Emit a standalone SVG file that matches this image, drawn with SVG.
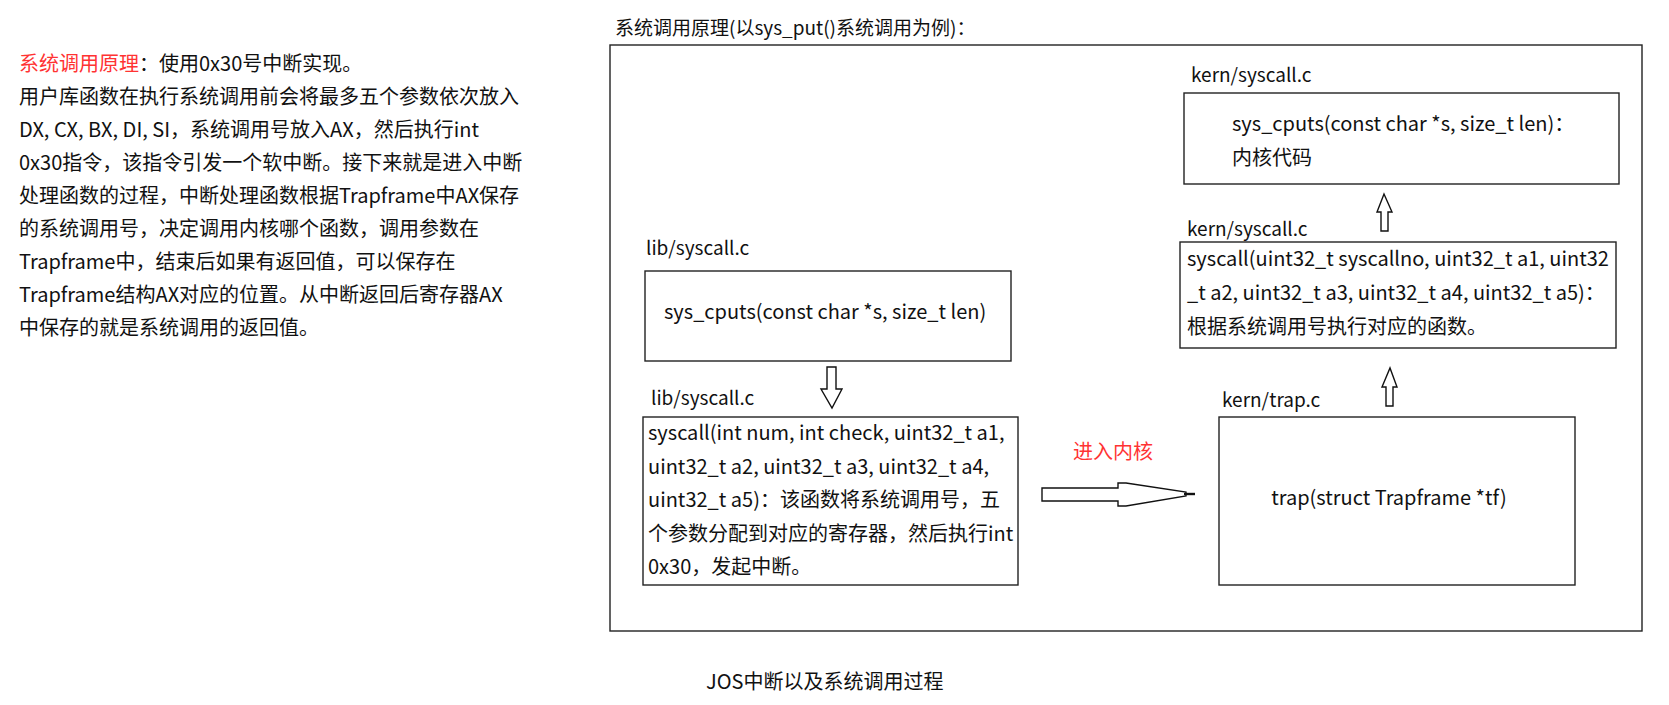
<svg xmlns="http://www.w3.org/2000/svg" width="1669" height="705" viewBox="0 0 1669 705">
<style>
text{font-family:"Noto Sans CJK SC","Liberation Sans",sans-serif;font-size:20px;fill:#111}
.red{fill:#ff3333}
.box{fill:#fff;stroke:#222;stroke-width:1.4}
.arr{fill:#fff;stroke:#111;stroke-width:1.4;stroke-linejoin:miter}
.lbl{font-size:19px}
</style>
<rect width="1669" height="705" fill="#fff"/>
<g id="intro">
<text x="19" y="71"><tspan class="red">系统调用原理</tspan>：使用0x30号中断实现。</text>
<text x="19" y="104">用户库函数在执行系统调用前会将最多五个参数依次放入</text>
<text x="19" y="137">DX, CX, BX, DI, SI，系统调用号放入AX，然后执行int</text>
<text x="19" y="170">0x30指令，该指令引发一个软中断。接下来就是进入中断</text>
<text x="19" y="203">处理函数的过程，中断处理函数根据Trapframe中AX保存</text>
<text x="19" y="236">的系统调用号，决定调用内核哪个函数，调用参数在</text>
<text x="19" y="269">Trapframe中，结束后如果有返回值，可以保存在</text>
<text x="19" y="302">Trapframe结构AX对应的位置。从中断返回后寄存器AX</text>
<text x="19" y="335">中保存的就是系统调用的返回值。</text>
</g>
<g id="frame">
<text x="615" y="35" class="lbl">系统调用原理(以sys_put()系统调用为例)：</text>
<rect x="610" y="45" width="1032" height="586" class="box" fill="none"/>
</g>
<g id="kern-sys-cputs">
<text x="1191" y="82" class="lbl">kern/syscall.c</text>
<rect x="1184" y="93" width="435" height="91" class="box"/>
<text x="1232" y="131">sys_cputs(const char *s, size_t len)：</text>
<text x="1232" y="165">内核代码</text>
</g>
<g id="kern-syscall">
<text x="1187" y="236" class="lbl">kern/syscall.c</text>
<rect x="1180" y="242" width="436" height="106" class="box"/>
<text x="1187" y="266">syscall(uint32_t syscallno, uint32_t a1, uint32</text>
<text x="1187" y="300">_t a2, uint32_t a3, uint32_t a4, uint32_t a5)：</text>
<text x="1187" y="334">根据系统调用号执行对应的函数。</text>
</g>
<g id="kern-trap">
<text x="1222" y="407" class="lbl">kern/trap.c</text>
<rect x="1219" y="417" width="356" height="168" class="box"/>
<text x="1389" y="505" text-anchor="middle">trap(struct Trapframe *tf)</text>
</g>
<g id="lib-sys-cputs">
<text x="646" y="255" class="lbl">lib/syscall.c</text>
<rect x="645" y="271" width="366" height="90" class="box"/>
<text x="664" y="319">sys_cputs(const char *s, size_t len)</text>
</g>
<g id="lib-syscall">
<text x="651" y="405" class="lbl">lib/syscall.c</text>
<rect x="643" y="417" width="375" height="168" class="box"/>
<text x="648" y="440">syscall(int num, int check, uint32_t a1,</text>
<text x="648" y="474">uint32_t a2, uint32_t a3, uint32_t a4,</text>
<text x="648" y="507">uint32_t a5)：该函数将系统调用号，五</text>
<text x="648" y="541">个参数分配到对应的寄存器，然后执行int</text>
<text x="648" y="574">0x30，发起中断。</text>
</g>
<g id="connectors">
<polygon class="arr" points="827,367 836,367 836,389 842,389 832,408 821,389 827,389"/>
<polygon class="arr" points="1042,488 1118,488 1118,483 1126,483 1186,492 1186,496 1126,506 1118,506 1118,501 1042,501"/>
<line x1="1184" y1="494" x2="1195" y2="494" stroke="#111" stroke-width="2.4"/>
<text x="1073" y="459" class="red">进入内核</text>
<polygon class="arr" points="1386,406 1393,406 1393,387 1397,387 1390,368 1382,387 1386,387"/>
<polygon class="arr" points="1381,231 1388,231 1388,212 1392,212 1384,194 1377,212 1381,212"/>
</g>
<g id="caption">
<text x="706" y="689">JOS中断以及系统调用过程</text>
</g>
</svg>
